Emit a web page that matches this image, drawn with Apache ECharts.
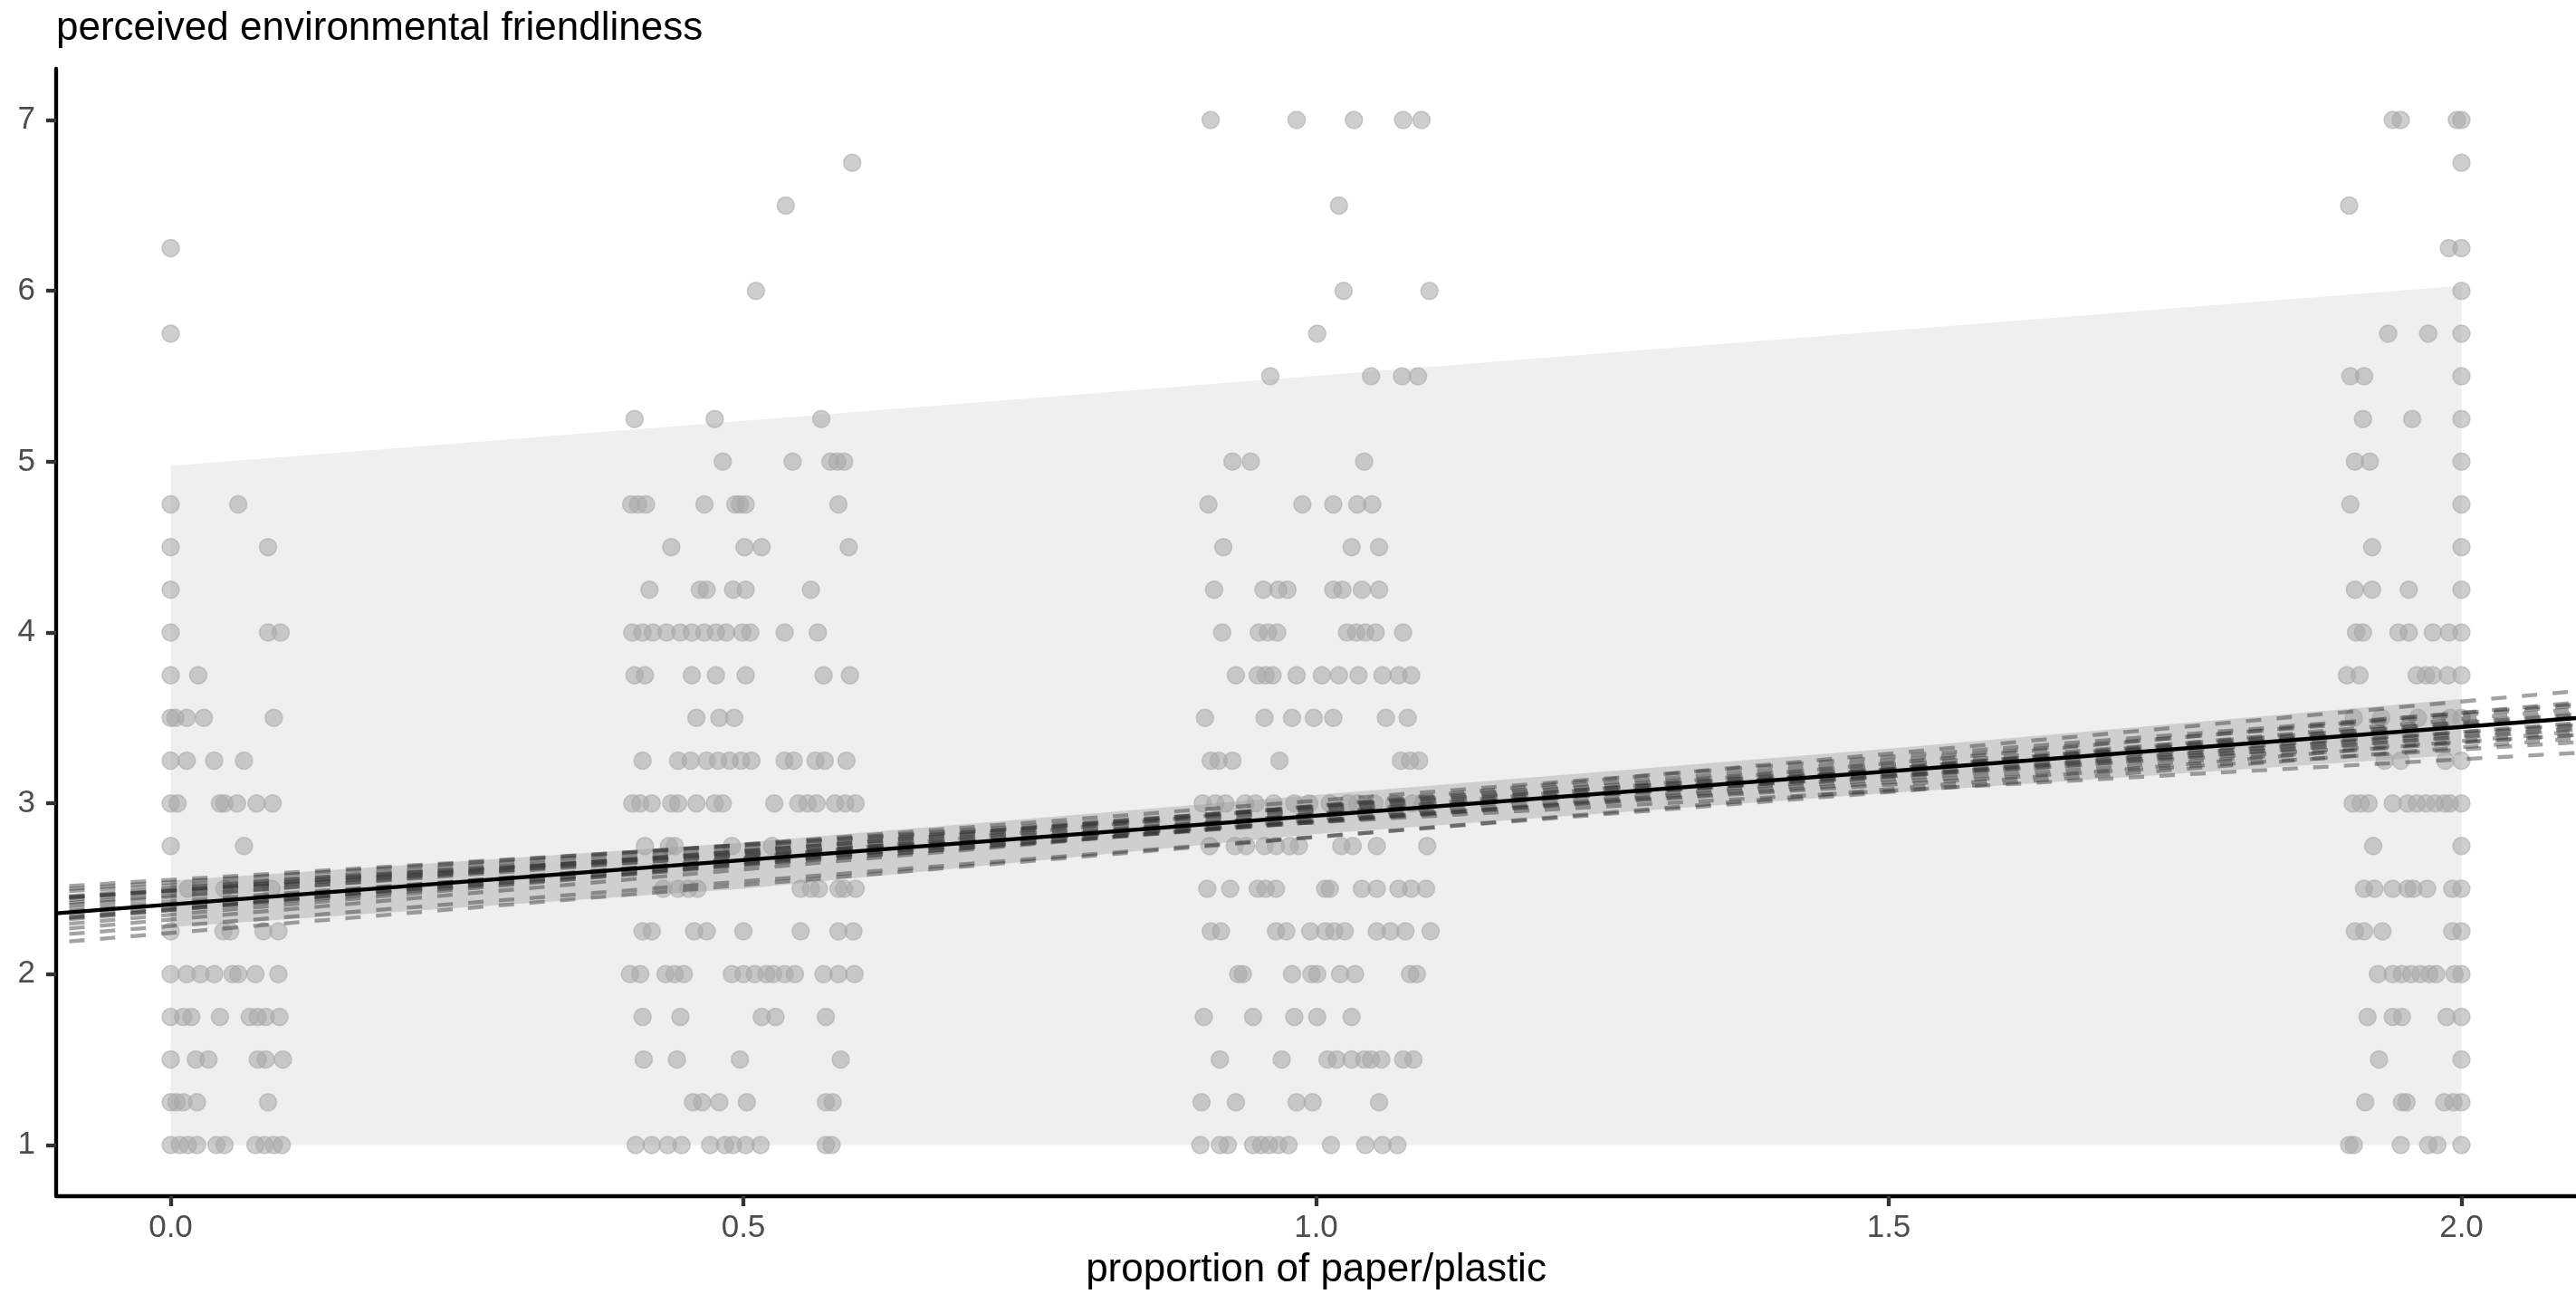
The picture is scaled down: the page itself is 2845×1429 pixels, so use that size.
<!DOCTYPE html>
<html><head><meta charset="utf-8">
<script src="https://cdn.jsdelivr.net/npm/echarts@6/dist/echarts.min.js"></script>
<style>html,body{margin:0;padding:0;background:#fff}#c{width:2845px;height:1429px}</style>
</head><body><div id="c"></div>
<script>
const xTicks = [0, 0.5, 1, 1.5, 2];
const yTicks = [1, 2, 3, 4, 5, 6, 7];

// rows: [y, [jittered x ...]]
const group0 = [
  [6.25, [0]], [5.75, [0]], [4.75, [0, 0.059]], [4.5, [0, 0.085]], [4.25, [0]],
  [4.0, [0, 0.085, 0.096]], [3.75, [0, 0.024]], [3.5, [0, 0.004, 0.014, 0.029, 0.09]],
  [3.25, [0, 0.014, 0.038, 0.064]], [3.0, [0, 0.006, 0.043, 0.047, 0.058, 0.075, 0.089]],
  [2.75, [0, 0.064]], [2.5, [0.015, 0.047, 0.088]], [2.25, [0, 0.046, 0.052, 0.081, 0.094]],
  [2.0, [0, 0.014, 0.026, 0.038, 0.054, 0.059, 0.074, 0.094]],
  [1.75, [0, 0.011, 0.018, 0.043, 0.069, 0.076, 0.083, 0.095]],
  [1.5, [0, 0.022, 0.033, 0.076, 0.083, 0.098]], [1.25, [0, 0.005, 0.011, 0.023, 0.085]],
  [1.0, [0, 0.008, 0.015, 0.023, 0.04, 0.047, 0.074, 0.082, 0.09, 0.097]]
];
const group05 = [
  [6.75, [0.595]], [6.5, [0.537]], [6.0, [0.511]], [5.25, [0.405, 0.475, 0.568]],
  [5.0, [0.482, 0.543, 0.576, 0.582, 0.588]],
  [4.75, [0.402, 0.408, 0.415, 0.466, 0.493, 0.497, 0.502, 0.583]],
  [4.5, [0.437, 0.501, 0.516, 0.592]], [4.25, [0.418, 0.462, 0.468, 0.491, 0.502, 0.559]],
  [4.0, [0.403, 0.412, 0.421, 0.433, 0.445, 0.455, 0.466, 0.476, 0.485, 0.499, 0.506, 0.536, 0.565]],
  [3.75, [0.405, 0.414, 0.455, 0.476, 0.502, 0.57, 0.593]], [3.5, [0.459, 0.479, 0.492]],
  [3.25, [0.412, 0.443, 0.454, 0.468, 0.478, 0.488, 0.498, 0.507, 0.536, 0.544, 0.563, 0.571, 0.59]],
  [3.0, [0.403, 0.41, 0.42, 0.437, 0.443, 0.459, 0.475, 0.482, 0.527, 0.548, 0.556, 0.564, 0.58, 0.589, 0.598]],
  [2.75, [0.414, 0.435, 0.44, 0.49, 0.525]],
  [2.5, [0.43, 0.443, 0.452, 0.46, 0.55, 0.559, 0.566, 0.583, 0.588, 0.598]],
  [2.25, [0.412, 0.42, 0.457, 0.468, 0.5, 0.55, 0.583, 0.596]],
  [2.0, [0.401, 0.41, 0.432, 0.44, 0.448, 0.49, 0.5, 0.51, 0.52, 0.526, 0.536, 0.545, 0.57, 0.583, 0.597]],
  [1.75, [0.412, 0.445, 0.516, 0.528, 0.572]], [1.5, [0.413, 0.442, 0.497, 0.585]],
  [1.25, [0.456, 0.464, 0.479, 0.503, 0.572, 0.578]],
  [1.0, [0.406, 0.42, 0.434, 0.446, 0.471, 0.484, 0.491, 0.502, 0.515, 0.572, 0.577]]
];
const group1 = [
  [7.0, [0.908, 0.983, 1.033, 1.076, 1.092]], [6.5, [1.02]], [6.0, [1.024, 1.099]], [5.75, [1.001]],
  [5.5, [0.96, 1.048, 1.075, 1.089]], [5.0, [0.927, 0.943, 1.042]],
  [4.75, [0.906, 0.988, 1.015, 1.036, 1.049]], [4.5, [0.919, 1.031, 1.055]],
  [4.25, [0.911, 0.954, 0.967, 0.975, 1.015, 1.023, 1.04, 1.055]],
  [4.0, [0.918, 0.95, 0.958, 0.966, 1.027, 1.035, 1.043, 1.052, 1.076]],
  [3.75, [0.93, 0.949, 0.956, 0.962, 0.983, 1.005, 1.02, 1.037, 1.058, 1.072, 1.083]],
  [3.5, [0.903, 0.955, 0.979, 0.998, 1.015, 1.061, 1.08]],
  [3.25, [0.908, 0.915, 0.927, 0.968, 1.074, 1.082, 1.09]],
  [3.0, [0.901, 0.912, 0.921, 0.938, 0.947, 0.963, 0.981, 0.994, 1.012, 1.028, 1.036, 1.051, 1.068, 1.084, 1.093]],
  [2.75, [0.907, 0.929, 0.939, 0.955, 0.965, 0.977, 0.985, 1.022, 1.032, 1.053, 1.097]],
  [2.5, [0.905, 0.925, 0.949, 0.956, 0.965, 1.008, 1.012, 1.04, 1.053, 1.072, 1.083, 1.096]],
  [2.25, [0.908, 0.917, 0.965, 0.974, 0.995, 1.008, 1.016, 1.025, 1.053, 1.065, 1.078, 1.1]],
  [2.0, [0.932, 0.936, 0.979, 0.996, 1.001, 1.021, 1.034, 1.082, 1.088]],
  [1.75, [0.902, 0.945, 0.981, 1.001, 1.031]],
  [1.5, [0.916, 0.97, 1.01, 1.018, 1.031, 1.042, 1.048, 1.057, 1.076, 1.085]],
  [1.25, [0.9, 0.93, 0.983, 0.997, 1.055]],
  [1.0, [0.899, 0.916, 0.923, 0.945, 0.952, 0.959, 0.967, 0.976, 1.013, 1.043, 1.058, 1.071]]
];
const group2 = [
  [7.0, [1.94, 1.947, 1.996, 2.0]], [6.75, [2.0]], [6.5, [1.902]], [6.25, [1.989, 2.0]], [6.0, [2.0]],
  [5.75, [1.936, 1.971, 2.0]], [5.5, [1.903, 1.915, 2.0]], [5.25, [1.914, 1.957, 2.0]],
  [5.0, [1.907, 1.92, 2.0]], [4.75, [1.903, 2.0]], [4.5, [1.922, 2.0]],
  [4.25, [1.907, 1.922, 1.954, 2.0]], [4.0, [1.908, 1.914, 1.945, 1.954, 1.975, 1.989, 2.0]],
  [3.75, [1.9, 1.911, 1.961, 1.969, 1.975, 1.988, 2.0]], [3.5, [1.906, 1.93, 1.962, 1.99, 2.0]],
  [3.25, [1.933, 1.947, 1.986, 2.0]],
  [3.0, [1.905, 1.912, 1.919, 1.94, 1.953, 1.961, 1.969, 1.977, 1.985, 1.99, 2.0]],
  [2.75, [1.923, 2.0]], [2.5, [1.915, 1.924, 1.94, 1.953, 1.958, 1.97, 1.992, 2.0]],
  [2.25, [1.907, 1.915, 1.931, 1.992, 2.0]],
  [2.0, [1.927, 1.94, 1.948, 1.956, 1.964, 1.972, 1.978, 1.994, 2.0]],
  [1.75, [1.918, 1.94, 1.948, 1.987, 2.0]], [1.5, [1.928, 2.0]],
  [1.25, [1.916, 1.948, 1.952, 1.985, 1.993, 2.0]],
  [1.0, [1.902, 1.906, 1.947, 1.971, 1.979, 2.0]]
];

// fitted line (at x = -0.1 and 2.1)
const fitX = [-0.1, 2.1];
const fitY = [2.356, 3.499];
// sampled lines: value at x=-0.1 and at x=2.1
const drawLeft  = [2.185, 2.229, 2.261, 2.288, 2.314, 2.323, 2.326, 2.342, 2.36, 2.381, 2.399, 2.412, 2.429, 2.445, 2.447, 2.451, 2.482, 2.494, 2.512, 2.441];
const drawRight = [3.42, 3.38, 3.553, 3.59, 3.657, 3.47, 3.53, 3.44, 3.507, 3.40, 3.57, 3.454, 3.50, 3.357, 3.43, 3.58, 3.295, 3.46, 3.40, 3.52];
// confidence band
const bandX = [0, 0.5, 1, 1.5, 2];
const bandLow = [2.276, 2.50, 2.82, 3.06, 3.285];
const bandHigh = [2.548, 2.77, 3.05, 3.32, 3.61];
// prediction ribbon
const piX = [0, 2];
const piLow = [1, 1];
const piHigh = [4.975, 6.03];

const FONT = 'Liberation Sans, Arial, Helvetica, sans-serif';

function flatten(groups) {
  const out = [];
  groups.forEach(g => g.forEach(([y, xs]) => xs.forEach(x => out.push([x, y]))));
  return out;
}
function polySeries(xs, lo, hi, color, z) {
  return {
    type: 'custom', z: z, silent: true, data: [[xs[0], lo[0]]],
    renderItem: (params, api) => {
      const pts = [];
      for (let i = 0; i < xs.length; i++) pts.push(api.coord([xs[i], hi[i]]));
      for (let i = xs.length - 1; i >= 0; i--) pts.push(api.coord([xs[i], lo[i]]));
      return { type: 'polygon', shape: { points: pts }, style: { fill: color } };
    }
  };
}

const series = [];
series.push(polySeries(piX, piLow, piHigh, '#efefef', 1));
series.push({
  type: 'scatter', z: 2, silent: true, symbol: 'circle', symbolSize: 19,
  data: flatten([group0, group05, group1, group2]),
  itemStyle: { color: 'rgba(168,168,168,0.7)', borderColor: 'rgba(168,168,168,0.7)', borderWidth: 1.5 }
});
series.push(polySeries(bandX, bandLow, bandHigh, 'rgba(150,150,150,0.35)', 3));
drawLeft.forEach((l, i) => {
  series.push({
    type: 'line', z: 4, silent: true, symbol: 'none', animation: false,
    data: [[fitX[0], l], [fitX[1], drawRight[i]]],
    lineStyle: { color: 'rgba(50,50,50,0.45)', width: 4.3, type: [17, 17], dashOffset: 19.5, cap: 'butt' }
  });
});
series.push({
  type: 'line', z: 5, silent: true, symbol: 'none',
  data: fitX.map((x, i) => [x, fitY[i]]),
  lineStyle: { color: '#000', width: 4.3 }
});

const chart = echarts.init(document.getElementById('c'), null, { renderer: 'canvas' });
chart.setOption({
  animation: false,
  backgroundColor: '#fff',
  title: {
    text: 'perceived environmental friendliness', left: 62, top: 10, padding: 0,
    textStyle: { fontSize: 44, fontWeight: 'normal', color: '#000', fontFamily: FONT }
  },
  grid: { left: 62, right: 0, top: 76, bottom: 108, containLabel: false, outerBoundsMode: 'none' },
  xAxis: {
    type: 'value', min: -0.1, max: 2.1,
    name: 'proportion of paper/plastic', nameLocation: 'middle', nameGap: 60,
    nameTextStyle: { fontSize: 44, color: '#000', fontFamily: FONT },
    axisLine: { show: true, onZero: false, lineStyle: { color: '#000', width: 4.3 } },
    axisTick: { show: true, length: 11, customValues: xTicks, lineStyle: { color: '#333', width: 4.3 } },
    axisLabel: { show: true, customValues: xTicks, margin: 18, fontSize: 35, color: '#4d4d4d', fontFamily: FONT,
      formatter: v => Number(v).toFixed(1) },
    splitLine: { show: false }
  },
  yAxis: {
    type: 'value', min: 0.7, max: 7.3,
    axisLine: { show: true, onZero: false, lineStyle: { color: '#000', width: 4.3 } },
    axisTick: { show: true, length: 11, customValues: yTicks, lineStyle: { color: '#333', width: 4.3 } },
    axisLabel: { show: true, customValues: yTicks, margin: 23, fontSize: 35, color: '#4d4d4d', fontFamily: FONT,
      formatter: v => String(Math.round(v)) },
    splitLine: { show: false }
  },
  series: series
});
</script>
</body></html>
